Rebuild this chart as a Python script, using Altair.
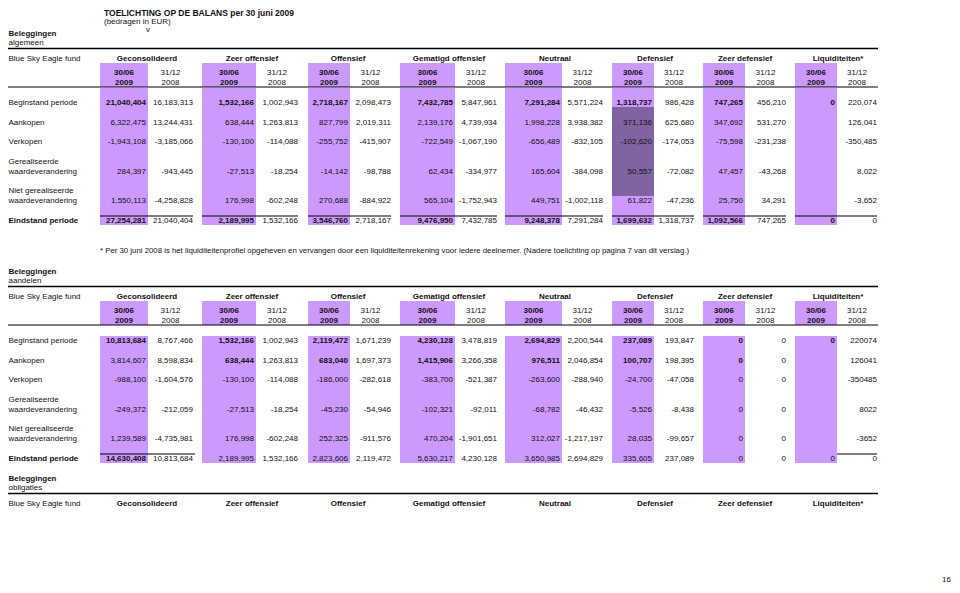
import altair as alt
import pandas as pd

# ---------------- data (texts and values as printed) ----------------
title_lines = ["TOELICHTING OP DE BALANS per 30 juni 2009", "(bedragen in EUR)", "v"]
section_title = "Beleggingen"
section_subtitles = ["algemeen", "aandelen", "obligaties"]
fund_label = "Blue Sky Eagle fund"
groups = ["Geconsolideerd", "Zeer offensief", "Offensief", "Gematigd offensief",
          "Neutraal", "Defensief", "Zeer defensief", "Liquiditeiten*"]
period_top = ["30/06", "31/12"]
period_bottom = ["2009", "2008"]
row_labels = [["Beginstand periode"], ["Aankopen"], ["Verkopen"],
              ["Gerealiseerde", "waardeverandering"],
              ["Niet gerealiseerde", "waardeverandering"],
              ["Eindstand periode"]]
footnote = ("* Per 30 juni 2008 is het liquiditeitenprofiel opgeheven en vervangen door een "
            "liquiditeitenrekening voor iedere deelnemer. (Nadere toelichting op pagina 7 van dit verslag.)")
page_number = "16"

# section 1: algemeen  (per row: 8 groups x [30/06 2009, 31/12 2008])
alg_begin = ["21,040,404", "16,183,313", "1,532,166", "1,002,943", "2,718,167", "2,098,473",
             "7,432,785", "5,847,961", "7,291,284", "5,571,224", "1,318,737", "986,428",
             "747,265", "456,210", "0", "220,074"]
alg_aankopen = ["6,322,475", "13,244,431", "638,444", "1,263,813", "827,799", "2,019,311",
                "2,139,176", "4,739,934", "1,998,228", "3,938,382", "371,136", "625,680",
                "347,692", "531,270", "", "126,041"]
alg_verkopen = ["-1,943,108", "-3,185,066", "-130,100", "-114,088", "-255,752", "-415,907",
                "-722,549", "-1,067,190", "-656,489", "-832,105", "-102,620", "-174,053",
                "-75,598", "-231,238", "", "-350,485"]
alg_gereal = ["284,397", "-943,445", "-27,513", "-18,254", "-14,142", "-98,788",
              "62,434", "-334,977", "165,604", "-384,098", "50,557", "-72,082",
              "47,457", "-43,268", "", "8,022"]
alg_nietgereal = ["1,550,113", "-4,258,828", "176,998", "-602,248", "270,688", "-884,922",
                  "565,104", "-1,752,943", "449,751", "-1,002,118", "61,822", "-47,236",
                  "25,750", "34,291", "", "-3,652"]
alg_eind = ["27,254,281", "21,040,404", "2,189,995", "1,532,166", "3,546,760", "2,718,167",
            "9,476,950", "7,432,785", "9,248,378", "7,291,284", "1,699,632", "1,318,737",
            "1,092,566", "747,265", "0", "0"]
alg_bold = [[1, 0] * 8, [0] * 16, [0] * 16, [0] * 16, [0] * 16, [1, 0] * 8]

# section 2: aandelen
aand_begin = ["10,813,684", "8,767,466", "1,532,166", "1,002,943", "2,119,472", "1,671,239",
              "4,230,128", "3,478,819", "2,694,829", "2,200,544", "237,089", "193,847",
              "0", "0", "0", "220074"]
aand_aankopen = ["3,814,607", "8,598,834", "638,444", "1,263,813", "683,040", "1,697,373",
                 "1,415,906", "3,266,358", "976,511", "2,046,854", "100,707", "198,395",
                 "0", "0", "", "126041"]
aand_verkopen = ["-988,100", "-1,604,576", "-130,100", "-114,088", "-186,000", "-282,618",
                 "-383,700", "-521,387", "-263,600", "-288,940", "-24,700", "-47,058",
                 "0", "0", "", "-350485"]
aand_gereal = ["-249,372", "-212,059", "-27,513", "-18,254", "-45,230", "-54,946",
               "-102,321", "-92,011", "-68,782", "-46,432", "-5,526", "-8,438",
               "0", "0", "", "8022"]
aand_nietgereal = ["1,239,589", "-4,735,981", "176,998", "-602,248", "252,325", "-911,576",
                   "470,204", "-1,901,651", "312,027", "-1,217,197", "28,035", "-99,657",
                   "0", "0", "", "-3652"]
aand_eind = ["14,630,408", "10,813,684", "2,189,995", "1,532,166", "2,823,606", "2,119,472",
             "5,630,217", "4,230,128", "3,650,985", "2,694,829", "335,605", "237,089",
             "0", "0", "0", "0"]
aand_bold = [[1, 0] * 8, [0, 0] + [1, 0] * 6 + [0, 0], [0] * 16, [0] * 16, [0] * 16,
             [1, 0] + [0, 0] * 7]

sections_values = [
    [alg_begin, alg_aankopen, alg_verkopen, alg_gereal, alg_nietgereal, alg_eind],
    [aand_begin, aand_aankopen, aand_verkopen, aand_gereal, aand_nietgereal, aand_eind],
]
sections_bold = [alg_bold, aand_bold]

# ---------------- layout (page grid) ----------------
FONT = "Liberation Sans"
LIGHT = "#cc99ff"
DARK = "#8064a2"
W, H = 944, 577
shade_l = [100, 202, 308, 400, 505, 612, 703, 795]
shade_r = [148, 256, 350, 455, 562, 654, 745, 837]
v31_r = [193, 298, 391, 497, 603, 694, 786, 877]
grp_c = [147, 252, 348, 449, 555, 655, 745, 838]
sec_top = [34, 272, 479]
row_dy = [[69], [89], [108], [128, 138], [157, 167], [187]]
LABEL_X = 8.5
LINE_L = 8
LINE_R = 878

texts, rects, rules = [], [], []


def T(x, y, s, align="left", bold=0, fs=8):
    if s != "":
        texts.append(dict(x=x, y=y, t=s, a=align, b=bold, fs=fs))


T(104, 12.5, title_lines[0], bold=1, fs=8.5)
T(104, 21.5, title_lines[1])
T(148, 29.5, title_lines[2], align="center")
T(100, 251, footnote, fs=7.8)
T(951, 580, page_number, align="right")

for s, top in enumerate(sec_top):
    T(LABEL_X, top - 0.5, section_title, bold=1)
    T(LABEL_X, top + 8.5, section_subtitles[s])
    rules.append(dict(x=LINE_L, x2=LINE_R, y=top + 14.5, w=1.5))
    T(LABEL_X, top + 25, fund_label)
    for g, name in enumerate(groups):
        T(grp_c[g], top + 25, name, align="center", bold=1)
    if s == 2:
        continue
    rules.append(dict(x=LINE_L, x2=LINE_R, y=top + 53, w=1))
    for g in range(8):
        c30 = (shade_l[g] + shade_r[g]) / 2
        c31 = (shade_r[g] + v31_r[g]) / 2
        T(c30, top + 39, period_top[0], align="center", bold=1)
        T(c30, top + 49, period_bottom[0], align="center", bold=1)
        T(c31, top + 39, period_top[1], align="center")
        T(c31, top + 49, period_bottom[1], align="center")
        rects.append(dict(x=shade_l[g], x2=shade_r[g], y=top + 29, y2=top + 53, c=LIGHT))
        body_top = top + 54 if s == 0 else top + 64
        rects.append(dict(x=shade_l[g], x2=shade_r[g], y=body_top, y2=top + 191, c=LIGHT))
    for r, lab in enumerate(row_labels):
        for k, part in enumerate(lab):
            T(LABEL_X, top + row_dy[r][k], part, bold=1 if r == 5 else 0)
        yv = top + row_dy[r][-1]
        vals = sections_values[s][r]
        bolds = sections_bold[s][r]
        for g in range(8):
            T(shade_r[g] - 2, yv, vals[2 * g], align="right", bold=bolds[2 * g])
            T(v31_r[g], yv, vals[2 * g + 1], align="right", bold=bolds[2 * g + 1])
    if s == 0:
        rects.append(dict(x=shade_l[5], x2=shade_r[5], y=top + 73, y2=top + 162, c=DARK))
        for g in range(8):
            rules.append(dict(x=shade_l[g], x2=v31_r[g], y=top + 182, w=1))
    else:
        rules.append(dict(x=shade_l[0], x2=v31_r[0] + 2, y=top + 182, w=1))
        rules.append(dict(x=shade_r[7], x2=v31_r[7], y=top + 182, w=1))

df_t = pd.DataFrame(texts)
df_r = pd.DataFrame(rects)
df_l = pd.DataFrame(rules)

xs = alt.Scale(domain=[8, 8 + W], range=[0, W], nice=False, zero=False)
ys = alt.Scale(domain=[8, 8 + H], range=[0, H], nice=False, zero=False)

rect_layer = alt.Chart(df_r).mark_rect().encode(
    x=alt.X("x:Q", scale=xs, axis=None), x2="x2:Q",
    y=alt.Y("y:Q", scale=ys, axis=None), y2="y2:Q",
    color=alt.Color("c:N", scale=None),
)
rule_layer = alt.Chart(df_l).mark_rule(color="#000000").encode(
    x=alt.X("x:Q", scale=xs, axis=None), x2="x2:Q",
    y=alt.Y("y:Q", scale=ys, axis=None),
    strokeWidth=alt.StrokeWidth("w:Q", scale=None),
)
layers = [rect_layer, rule_layer]
for a in ["left", "right", "center"]:
    for b in [0, 1]:
        layers.append(
            alt.Chart(df_t).transform_filter(f"datum.a == '{a}' && datum.b == {b}")
            .mark_text(align=a, baseline="middle", font=FONT,
                       fontWeight="bold" if b else "normal", color="#111111")
            .encode(
                x=alt.X("x:Q", scale=xs, axis=None),
                y=alt.Y("y:Q", scale=ys, axis=None),
                text="t:N",
                size=alt.Size("fs:Q", scale=None),
            )
        )

chart = alt.layer(*layers).properties(
    width=W, height=H, autosize="none", padding=0, background="white"
).configure_view(stroke=None)

chart.save("out.html", embed_options={"renderer": "svg", "actions": False})
